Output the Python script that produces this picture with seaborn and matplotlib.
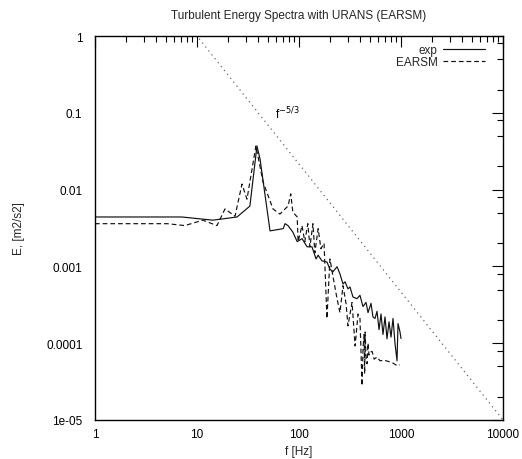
import matplotlib
matplotlib.use("Agg")
import matplotlib.pyplot as plt
import matplotlib.ticker as mticker
import numpy as np
import pandas as pd
import seaborn as sns

# ---- data ----
exp_f = [1, 7.1, 14.3, 24.7, 33, 38.7, 41.5, 52, 70, 73, 78, 87, 96, 107, 120, 134,
         147, 154, 168, 188, 201, 215, 236, 252, 270, 283, 302, 316, 338, 370, 396,
         424, 454, 475, 508, 531, 556, 582, 609, 637, 666, 697, 729, 763, 798, 835,
         873, 914, 935, 978, 1000]
exp_E = [0.0044, 0.0044, 0.0040, 0.0044, 0.0061, 0.037, 0.025, 0.0029, 0.0031, 0.0036,
         0.0034, 0.0028, 0.0021, 0.0023, 0.0018, 0.0018, 0.00125, 0.0014, 0.00118,
         0.00114, 0.00092, 0.00085, 0.00099, 0.0008, 0.00059, 0.00063, 0.00051,
         0.00054, 0.0004, 0.00038, 0.00042, 0.0003, 0.00034, 0.00025, 0.00033,
         0.00022, 0.00021, 0.00026, 0.00015, 0.00024, 0.00013, 0.00022, 0.000114,
         0.00019, 0.00012, 0.00021, 0.0001, 0.000059, 0.00018, 0.00014, 0.000115]

earsm_f = [1, 5.1, 7.6, 11.4, 15.7, 18.8, 23.6, 27.6, 30.9, 37.8, 44.4, 55.6, 65, 73,
           78, 83, 87, 96, 98, 107, 114, 122, 128, 137, 143, 154, 164, 176, 188, 201,
           215, 236, 252, 270, 289, 302, 331, 355, 379, 396, 415, 425, 435, 440, 445,
           455, 465, 475, 485, 497, 521, 545, 582, 623, 683, 748, 817, 895, 978]
earsm_E = [0.0036, 0.0036, 0.0034, 0.0040, 0.0034, 0.0056, 0.0045, 0.0118, 0.0075,
           0.037, 0.0126, 0.0056, 0.0048, 0.0056, 0.0061, 0.0088, 0.0051, 0.0044,
           0.0021, 0.0034, 0.0021, 0.0036, 0.0018, 0.0036, 0.0015, 0.0031, 0.0017,
           0.002, 0.00021, 0.00125, 0.00075, 0.00038, 0.00025, 0.00056, 0.00033,
           0.000168, 0.00034, 0.000092, 0.00024, 0.00021, 0.000028, 0.00009, 0.00013,
           0.00004, 0.00014, 0.00006, 0.000054, 0.0001, 0.00007, 0.000077, 0.000078,
           0.000062, 0.000066, 0.000059, 0.00006, 0.000058, 0.000056, 0.000052,
           0.000052]

ref_f = [8.5, 10000]
ref_E = [1.31, 1e-5]

series_names = ["exp", "EARSM"]
x_ticklabels = ["1", "10", "100", "1000", "10000"]
y_ticklabels = ["1e-05", "0.0001", "0.001", "0.01", "0.1", "1"]

# ---- figure ----
sns.set_style("white")
plt.rcParams["font.family"] = ["Liberation Sans", "DejaVu Sans"]

fig = plt.figure(figsize=(5.22, 4.60), dpi=100)
ax = fig.add_axes([95 / 522, 1 - 421 / 460, (503 - 95) / 522, (421 - 37) / 460])

df_exp = pd.DataFrame({"f": exp_f, "E": exp_E})
df_ear = pd.DataFrame({"f": earsm_f, "E": earsm_E})
df_ref = pd.DataFrame({"f": ref_f, "E": ref_E})

sns.lineplot(data=df_exp, x="f", y="E", ax=ax, color="#111111", lw=0.85,
             estimator=None, sort=False, label=series_names[0])
sns.lineplot(data=df_ear, x="f", y="E", ax=ax, color="#111111", lw=0.85,
             estimator=None, sort=False, label=series_names[1])
ax.lines[-1].set_dashes([4, 2.5])
sns.lineplot(data=df_ref, x="f", y="E", ax=ax, color="#666666", lw=0.9,
             estimator=None, sort=False)
ax.lines[-1].set_linestyle((0, (1, 3)))

ax.set_xscale("log")
ax.set_yscale("log")
ax.set_xlim(1, 10000)
ax.set_ylim(1e-5, 1)

ax.set_xticks([1, 10, 100, 1000, 10000])
ax.set_xticklabels(x_ticklabels)
ax.set_yticks([1e-5, 1e-4, 1e-3, 1e-2, 1e-1, 1])
ax.set_yticklabels(y_ticklabels)
ax.xaxis.set_minor_locator(mticker.LogLocator(base=10, subs=np.arange(2, 10), numticks=20))
ax.yaxis.set_minor_locator(mticker.LogLocator(base=10, subs=(2, 5, 8), numticks=20))
ax.xaxis.set_minor_formatter(mticker.NullFormatter())
ax.yaxis.set_minor_formatter(mticker.NullFormatter())

ax.tick_params(which="both", direction="in", top=True, right=True,
               labelsize=8.5, colors="black", width=0.8)
ax.tick_params(which="major", length=8)
ax.tick_params(axis="y", which="major", pad=9)
ax.tick_params(axis="x", which="major", pad=6)
ax.tick_params(which="minor", length=4)
for s in ax.spines.values():
    s.set_color("black")
    s.set_linewidth(1.0)
    s.set_visible(True)

ax.set_xlabel("f [Hz]", fontsize=8.5, labelpad=3)
ax.set_ylabel("E, [m2/s2]", fontsize=8.5, labelpad=15)
ax.set_title("Turbulent Energy Spectra with URANS (EARSM)", fontsize=8.5, pad=13)

ax.text(58, 0.085, r"f$^{-5/3}$", fontsize=8.5, color="black")

leg = ax.legend(loc="upper right", bbox_to_anchor=(0.955, 0.98), frameon=False,
                markerfirst=False, fontsize=8.5, handlelength=3.5, labelspacing=0.0,
                borderaxespad=0.0, handletextpad=0.5, borderpad=0.0)

fig.savefig("out.png", dpi=100)
